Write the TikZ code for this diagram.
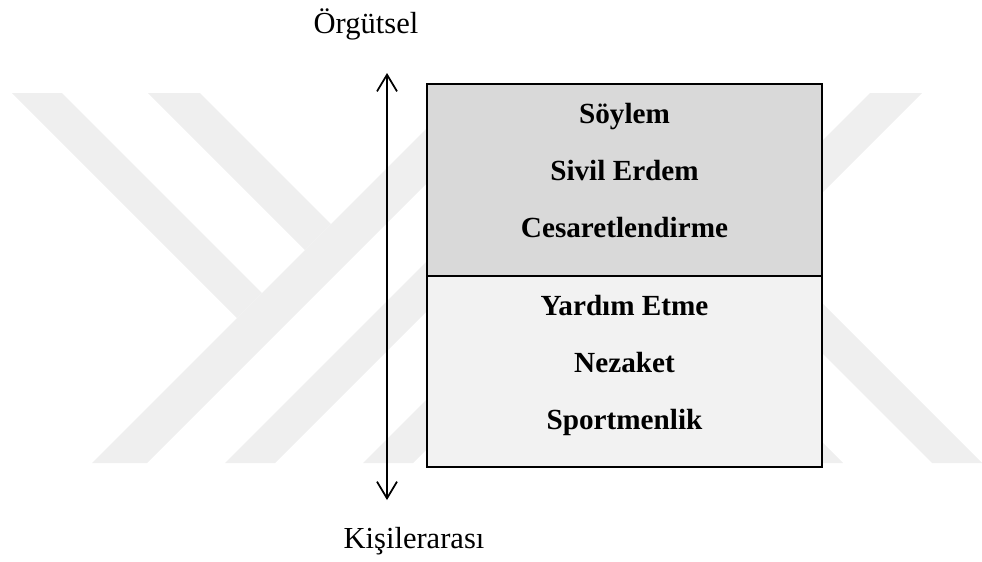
\documentclass[tikz,border=0pt]{standalone}
\usepackage{fontspec}
\setmainfont{Liberation Serif}
\usetikzlibrary{arrows.meta}
\definecolor{wmark}{HTML}{EFEFEF}
\definecolor{topfill}{HTML}{D9D9D9}
\definecolor{lowfill}{HTML}{F2F2F2}
\tikzset{
  wm/.style={fill=wmark, draw=none},
  panel/.style={draw=black, line width=1.6pt},
  item/.style={anchor=base, font=\fontsize{21.9}{26}\selectfont\bfseries},
  axislabel/.style={anchor=base, font=\fontsize{22.9}{27}\selectfont},
  axis/.style={line width=1.3pt, {Straight Barb[length=12.5pt,width=15pt]}-{Straight Barb[length=12.5pt,width=15pt]}}
}
\begin{document}
\begin{tikzpicture}[x=0.75pt,y=-0.75pt]
\useasboundingbox (0,0) rectangle (982,561);
% watermark
\fill[wm] (12,93) -- (62,93) -- (262,293) -- (237,318) -- cycle;
\fill[wm] (148,93) -- (200,93) -- (331,224) -- (305,250) -- cycle;
\fill[wm] (92,463) -- (147,463) -- (450,160) -- (450,105) -- cycle;
\fill[wm] (225,463) -- (275,463) -- (450,288) -- (450,238) -- cycle;
\fill[wm] (363,463) -- (413,463) -- (450,426) -- (450,376) -- cycle;
\fill[wm] (870,93) -- (922,93) -- (800,215) -- (800,163) -- cycle;
\fill[wm] (800,281) -- (800,331) -- (932,463) -- (982,463) -- cycle;
\fill[wm] (780,463) -- (843,463) -- (780,400) -- cycle;
% panels
\coordinate (tl) at (427,84);
\coordinate (mr) at (822,276);
\coordinate (ml) at (427,276);
\coordinate (br) at (822,467);
\filldraw[panel, fill=topfill] (tl) rectangle (mr);
\filldraw[panel, fill=lowfill] (ml) rectangle (br);
% items
\node[item] (s1) at (624.5,123) {Söylem};
\node[item] (s2) at (624.5,180) {Sivil Erdem};
\node[item] (s3) at (624.5,237) {Cesaretlendirme};
\node[item] (s4) at (624.5,315) {Yardım Etme};
\node[item] (s5) at (624.5,372) {Nezaket};
\node[item] (s6) at (624.5,429) {Sportmenlik};
% axis
\node[axislabel] (org) at (366,33) {Örgütsel};
\node[axislabel] (kis) at (414,548) {Kişilerarası};
\coordinate (atop) at (387,73);
\coordinate (abot) at (387,500);
\draw[axis] (abot) -- (atop);
\end{tikzpicture}
\end{document}
